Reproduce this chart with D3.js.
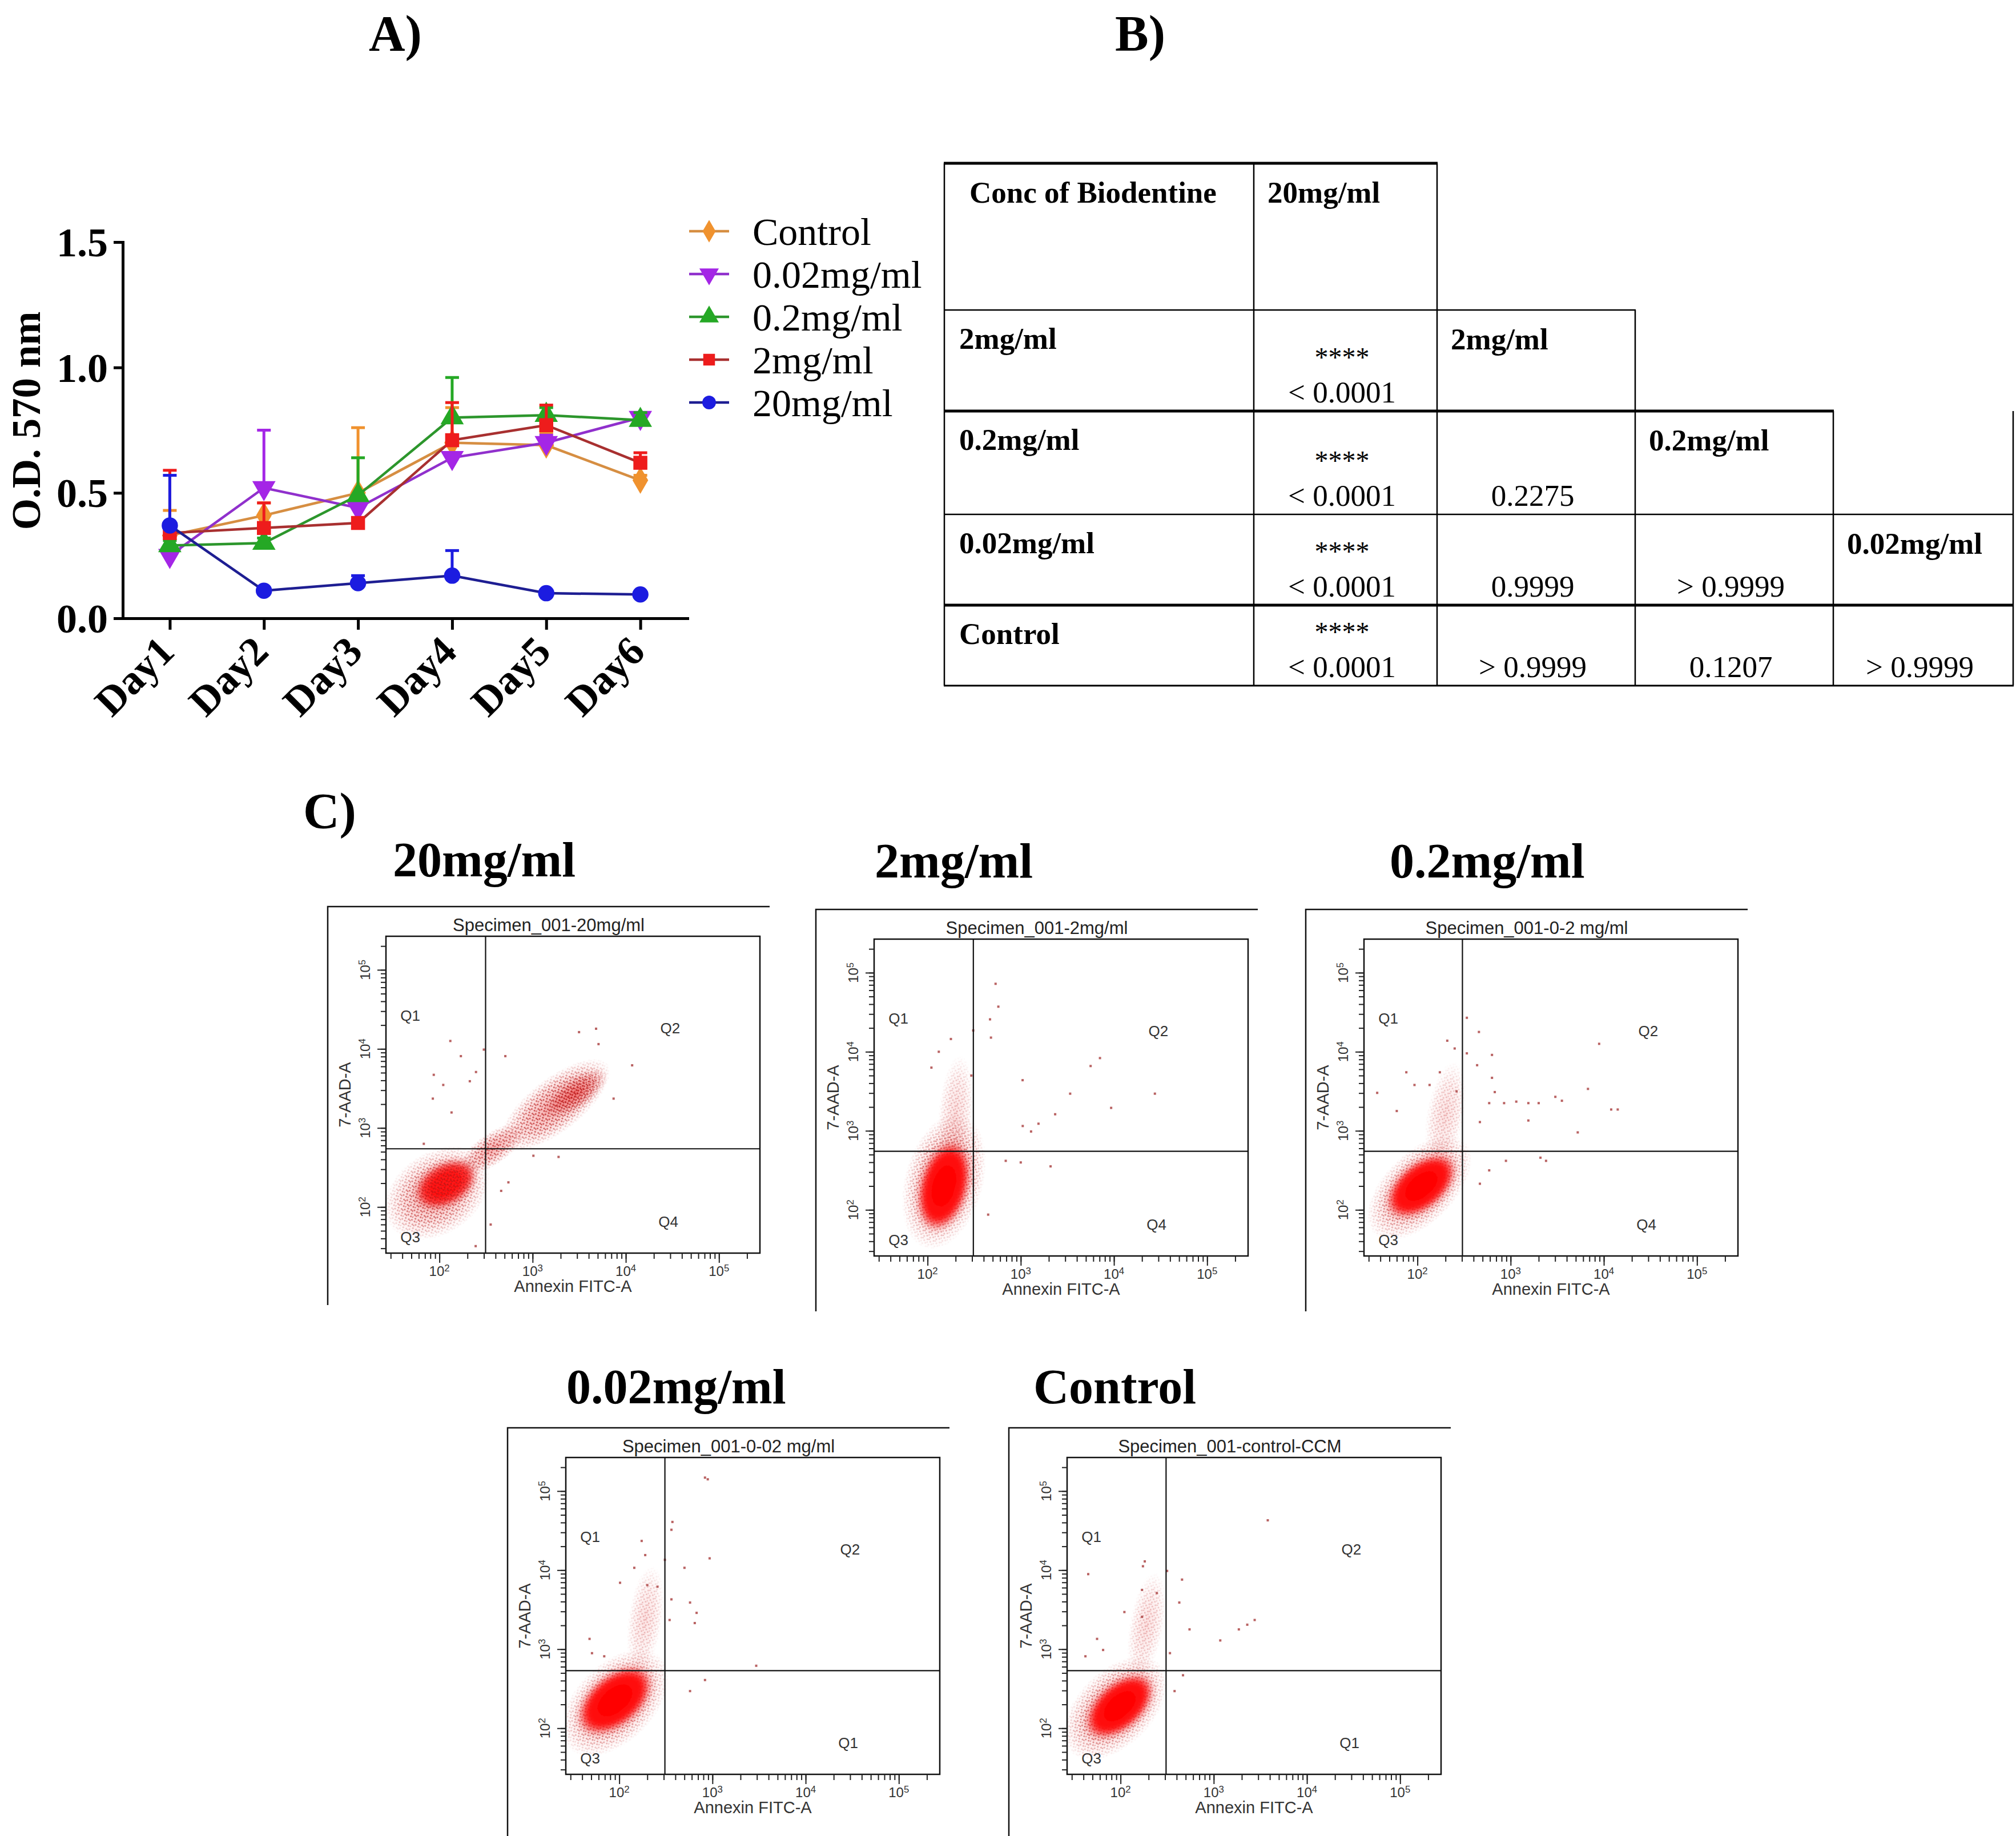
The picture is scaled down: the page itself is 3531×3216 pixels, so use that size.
<!DOCTYPE html>
<html>
<head>
<meta charset="utf-8">
<script src="https://cdn.jsdelivr.net/npm/d3@7/dist/d3.min.js"></script>
<style>
  body { margin: 0; background: #fff; }
  svg { display: block; }
</style>
</head>
<body>
<svg id="fig" width="3531" height="3216"></svg>
<script>
// ---------- A) growth curves ----------
var days = ["Day1", "Day2", "Day3", "Day4", "Day5", "Day6"];
var groups = ["Control", "0.02mg/ml", "0.2mg/ml", "2mg/ml", "20mg/ml"];
var controlMean = [0.33, 0.41, 0.50, 0.70, 0.69, 0.55];
var controlErr  = [0.10, 0.05, 0.26, 0.14, 0.05, 0.02];
var c002Mean = [0.25, 0.52, 0.44, 0.64, 0.70, 0.80];
var c002Err  = [0.02, 0.23, 0.02, 0.02, 0.03, 0.01];
var c02Mean = [0.29, 0.30, 0.49, 0.80, 0.81, 0.79];
var c02Err  = [0.02, 0.02, 0.15, 0.16, 0.03, 0.03];
var c2Mean = [0.34, 0.36, 0.38, 0.71, 0.77, 0.62];
var c2Err  = [0.25, 0.10, 0.02, 0.15, 0.08, 0.04];
var c20Mean = [0.37, 0.11, 0.14, 0.17, 0.10, 0.095];
var c20Err  = [0.20, 0.01, 0.03, 0.10, 0.01, 0.01];
var yTicksA = [0, 0.5, 1.0, 1.5];

// ---------- B) p-value table ----------
var tableCols = ["20mg/ml", "2mg/ml", "0.2mg/ml", "0.02mg/ml"];
var tableRows = ["2mg/ml", "0.2mg/ml", "0.02mg/ml", "Control"];
var tableP = [
  ["< 0.0001"],
  ["< 0.0001", "0.2275"],
  ["< 0.0001", "0.9999", "> 0.9999"],
  ["< 0.0001", "> 0.9999", "0.1207", "> 0.9999"]
];
var tableSig = [["****"], ["****", ""], ["****", "", ""], ["****", "", "", ""]];

// ---------- C) flow cytometry ----------
var flowTitles = ["20mg/ml", "2mg/ml", "0.2mg/ml", "0.02mg/ml", "Control"];
var specimenNames = ["Specimen_001-20mg/ml", "Specimen_001-2mg/ml", "Specimen_001-0-2 mg/ml",
                     "Specimen_001-0-02 mg/ml", "Specimen_001-control-CCM"];
var quadNames = [["Q1", "Q2", "Q3", "Q4"], ["Q1", "Q2", "Q3", "Q4"], ["Q1", "Q2", "Q3", "Q4"],
                 ["Q1", "Q2", "Q3", "Q1"], ["Q1", "Q2", "Q3", "Q1"]];
var gateX = [313, 310, 304, 309, 308];
var gateY = [545, 550, 550, 535, 535];
var flowTicks = [1e2, 1e3, 1e4, 1e5];
// populations: [annexin, 7-AAD, spread x (decades), spread y (decades), tilt deg, density]
var pop20 = [[94, 150, 0.62, 0.52, 35, 0.5], [370, 545, 0.42, 0.2, 35, 0.5],
             [1750, 1950, 0.72, 0.34, 38, 0.55], [2900, 2750, 0.4, 0.2, 35, 0.7],
             [117, 195, 0.36, 0.27, 30, 0.88]];
var pop2 = [[150, 230, 0.75, 0.5, 75, 0.5], [200, 1700, 0.62, 0.22, 85, 0.18],
            [150, 200, 0.5, 0.32, 75, 1]];
var pop02 = [[105, 190, 0.7, 0.45, 45, 0.5], [200, 1600, 0.58, 0.24, 80, 0.18],
             [110, 200, 0.45, 0.3, 40, 1]];
var pop002 = [[90, 210, 0.7, 0.5, 45, 0.5], [190, 2400, 0.58, 0.22, 82, 0.18],
              [90, 225, 0.48, 0.33, 40, 1]];
var popCtrl = [[88, 180, 0.68, 0.48, 45, 0.5], [190, 2000, 0.58, 0.22, 80, 0.18],
               [98, 190, 0.45, 0.3, 42, 1]];
// scattered single events: [annexin, 7-AAD]
var dots20 = [[131, 12600], [170, 8100], [87, 4700], [110, 3500], [212, 3900], [85, 2350], [247, 5100],
              [300, 9800], [510, 8100], [3150, 16300], [4800, 18000], [5100, 11500], [11700, 6200],
              [7400, 2350], [1020, 445], [1900, 430], [460, 160], [355, 60], [550, 205], [68, 630],
              [135, 1570], [245, 32]];
var dots2 = [[537, 72400], [575, 37200], [468, 25700], [309, 18600], [479, 15100], [178, 14500],
             [132, 10000], [110, 6300], [295, 5000], [1047, 4370], [3390, 2950], [5620, 6600],
             [7080, 8320], [9330, 1950], [27500, 2950], [2340, 1620], [1550, 1230], [1050, 1150],
             [1290, 980], [690, 417], [1000, 398], [2090, 355], [447, 87]];
var dots02 = [[339, 26900], [457, 17800], [209, 13800], [251, 11000], [339, 9550], [631, 9120],
              [437, 6760], [76, 5500], [174, 5500], [37, 3020], [631, 4680], [676, 3090], [589, 2240],
              [851, 2240], [1150, 2340], [1550, 2240], [2000, 2240], [1550, 1350], [3020, 2690],
              [3550, 2400], [6760, 3390], [8910, 12600], [12000, 1860], [14100, 1860], [5250, 955],
              [891, 417], [2090, 457], [2400, 417], [589, 316], [468, 214], [60, 1780], [93, 3800],
              [135, 3800], [468, 1290], [263, 3160]];
var dots002 = [[832, 148000], [891, 141000], [372, 40700], [363, 32400], [174, 23400], [190, 15500],
               [309, 13500], [501, 10700], [933, 14100], [145, 10700], [102, 6920], [200, 6460],
               [257, 6170], [363, 4270], [575, 3890], [676, 2880], [646, 2140], [347, 2340],
               [48, 1350], [51, 890], [2950, 617], [832, 407], [575, 295], [69, 813]];
var dotsCtrl = [[3800, 42700], [45, 8900], [182, 12900], [174, 11200], [316, 9770], [457, 7590],
                [427, 3890], [170, 5620], [245, 5130], [110, 2950], [170, 2570], [550, 1780],
                [1175, 1290], [1860, 1780], [2290, 2040], [2750, 2340], [65, 977], [339, 891],
                [468, 468], [380, 295], [42, 813], [56, 1350]];

var serif = "'Liberation Serif', 'Times New Roman', serif";
var sans = "'Liberation Sans', Arial, sans-serif";

var translate = function(x, y) {
  return "translate(" + x + "," + y + ")";
};

var svg = d3.select("#fig");
svg.append("rect").attr("width", 3531).attr("height", 3216).attr("fill", "#fff");
var defs = svg.append("defs");

// panel letters
var letters = [["A)", 646, 88], ["B)", 1953, 88], ["C)", 531, 1450]];
svg.selectAll("text.letter").data(letters).enter().append("text")
  .attr("class", "letter")
  .attr("x", function(d) { return d[1]; })
  .attr("y", function(d) { return d[2]; })
  .attr("font-family", serif).attr("font-weight", "bold").attr("font-size", 88)
  .text(function(d) { return d[0]; });

/* ================= A ================= */
var means = [controlMean, c002Mean, c02Mean, c2Mean, c20Mean];
var errs = [controlErr, c002Err, c02Err, c2Err, c20Err];
var markColors = ["#f0922e", "#a426e6", "#25a825", "#ee1c1c", "#1c1ce0"];
var lineColors = ["#d68e42", "#9030cc", "#2c962c", "#a83030", "#1e1e92"];
var shapes = [d3.symbolDiamond, d3.symbolTriangle, d3.symbolTriangle, d3.symbolSquare, d3.symbolCircle];
var shapeTurn = [0, 180, 0, 0, 0];
var shapeSize = [650, 720, 720, 600, 640];

var xA = d3.scalePoint().domain(days).range([215, 1204]).padding(0.5);
var yA = d3.scaleLinear().domain([0, 1.5]).range([1083, 424]);
var gA = svg.append("g").attr("id", "panelA");

var yAxisA = d3.axisLeft(yA).tickValues(yTicksA).tickFormat(d3.format(".1f"))
  .tickSize(16).tickPadding(10).tickSizeOuter(0);
var yg = gA.append("g").attr("transform", translate(215, 0)).call(yAxisA);
var xAxisA = d3.axisBottom(xA).tickSize(20).tickSizeOuter(0);
var xg = gA.append("g").attr("transform", translate(0, 1083)).call(xAxisA);
[yg, xg].forEach(function(ax) {
  ax.select(".domain").attr("stroke-width", 5).attr("stroke-linecap", "square");
  ax.selectAll(".tick line").attr("stroke-width", 5);
  ax.selectAll("text").attr("font-family", serif).attr("font-weight", "bold")
    .attr("font-size", 72).attr("fill", "#000");
});
yg.selectAll("text").attr("dy", "0.34em");
xg.selectAll("text")
  .attr("y", 0).attr("dy", 0).attr("x", 0)
  .attr("text-anchor", "end")
  .attr("transform", "translate(11,62) rotate(-45)");

gA.append("text")
  .attr("transform", translate(70, 737) + " rotate(-90)")
  .attr("text-anchor", "middle")
  .attr("font-family", serif).attr("font-weight", "bold").attr("font-size", 71)
  .text("O.D. 570 nm");

var lineA = d3.line()
  .x(function(d, i) { return xA(days[i]); })
  .y(function(d) { return yA(d); });

groups.forEach(function(name, k) {
  var s = gA.append("g").attr("class", "series");
  var pts = means[k].map(function(m, i) { return { day: days[i], m: m, e: errs[k][i] }; });
  var eb = s.selectAll("g.err").data(pts).enter().append("g").attr("class", "err")
    .attr("stroke", markColors[k]).attr("stroke-width", 5);
  eb.append("line")
    .attr("x1", function(d) { return xA(d.day); })
    .attr("x2", function(d) { return xA(d.day); })
    .attr("y1", function(d) { return yA(d.m); })
    .attr("y2", function(d) { return yA(d.m + d.e); });
  eb.append("line")
    .attr("x1", function(d) { return xA(d.day) - 12; })
    .attr("x2", function(d) { return xA(d.day) + 12; })
    .attr("y1", function(d) { return yA(d.m + d.e); })
    .attr("y2", function(d) { return yA(d.m + d.e); });
  s.append("path").datum(means[k])
    .attr("d", lineA).attr("fill", "none")
    .attr("stroke", lineColors[k]).attr("stroke-width", 4.5);
  s.selectAll("path.mark").data(pts).enter().append("path").attr("class", "mark")
    .attr("d", d3.symbol().type(shapes[k]).size(shapeSize[k]))
    .attr("transform", function(d) {
      return translate(xA(d.day), yA(d.m)) + " rotate(" + shapeTurn[k] + ")";
    })
    .attr("fill", markColors[k]);
});

// legend
var legend = gA.append("g").attr("id", "legendA");
var leg = legend.selectAll("g").data(groups).enter().append("g")
  .attr("transform", function(d, i) { return translate(1242, 405 + i * 75); });
leg.append("line").attr("x1", -35).attr("x2", 35)
  .attr("stroke", function(d, i) { return lineColors[i]; }).attr("stroke-width", 4.5);
leg.append("path")
  .attr("d", function(d, i) { return d3.symbol().type(shapes[i]).size(shapeSize[i] * 0.7)(); })
  .attr("transform", function(d, i) { return "rotate(" + shapeTurn[i] + ")"; })
  .attr("fill", function(d, i) { return markColors[i]; });
leg.append("text").attr("x", 76).attr("dy", "0.35em")
  .attr("font-family", serif).attr("font-size", 68)
  .text(function(d) { return d; });

/* ================= B ================= */
var colEdges = [1654, 2196, 2517, 2864, 3211, 3526];
var rowEdges = [286, 543, 720, 901, 1060, 1201];
var hWidth = [5, 2.5, 5, 2.5, 5, 3];
var gB = svg.append("g").attr("id", "panelB");
rowEdges.forEach(function(y, r) {
  var right = colEdges[Math.min(r + 2, 5)];
  gB.append("line").attr("x1", colEdges[0] - 1).attr("x2", right + 1)
    .attr("y1", y).attr("y2", y).attr("stroke", "#000").attr("stroke-width", hWidth[r]);
});
colEdges.forEach(function(x, c) {
  var top = rowEdges[Math.min(Math.max(0, c - 2), 2)];
  gB.append("line").attr("x1", x).attr("x2", x)
    .attr("y1", top).attr("y2", rowEdges[5]).attr("stroke", "#000").attr("stroke-width", 2.5);
});
var bold = function(sel) {
  return sel.attr("font-family", serif).attr("font-weight", "bold").attr("font-size", 53);
};
bold(gB.append("text").attr("x", colEdges[0] + 44).attr("y", rowEdges[0] + 69)).text("Conc of Biodentine");
tableCols.forEach(function(name, c) {
  bold(gB.append("text").attr("x", colEdges[c + 1] + 24).attr("y", rowEdges[c] + 69)).text(name);
});
tableRows.forEach(function(name, r) {
  bold(gB.append("text").attr("x", colEdges[0] + 26).attr("y", rowEdges[r + 1] + 68)).text(name);
  tableP[r].forEach(function(p, c) {
    var cx = (colEdges[c + 1] + colEdges[c + 2]) / 2 - 6;
    gB.append("text").attr("x", cx).attr("y", rowEdges[r + 2] - 15)
      .attr("text-anchor", "middle").attr("font-family", serif).attr("font-size", 53).text(p);
    if (tableSig[r][c]) {
      gB.append("text").attr("x", cx).attr("y", rowEdges[r + 2] - 78)
        .attr("text-anchor", "middle").attr("font-family", serif).attr("font-size", 48)
        .text(tableSig[r][c]);
    }
  });
});

/* ================= C ================= */
var FW = 655, FH = 555;
var fx = d3.scaleLog().domain([26.7, 275000]).range([0, FW]);
var fy = d3.scaleLog().domain([26.1, 266000]).range([FH, 0]);
var decX = FW / Math.log10(275000 / 26.7);
var decY = FH / Math.log10(266000 / 26.1);
var flowPops = [pop20, pop2, pop02, pop002, popCtrl];
var flowDots = [dots20, dots2, dots02, dots002, dotsCtrl];
var flowLayout = [
  { x0: 676, y0: 1640, tx: 688, ty: 1535, ob: 2286 },
  { x0: 1531, y0: 1645, tx: 1532, ty: 1537, ob: 2297 },
  { x0: 2389, y0: 1645, tx: 2434, ty: 1537, ob: 2297 },
  { x0: 991, y0: 2553, tx: 992, ty: 2458, ob: 3216 },
  { x0: 1869, y0: 2553, tx: 1810, ty: 2458, ob: 3216 }
];
var quadPos = [[0.065, 0.25], [0.76, 0.29], [0.065, 0.95], [0.755, 0.9]];

// gradients / textures for the dense event clouds
var core = defs.append("radialGradient").attr("id", "coreGrad");
core.append("stop").attr("offset", "0%").attr("stop-color", "#ff0000").attr("stop-opacity", 1);
core.append("stop").attr("offset", "70%").attr("stop-color", "#ff0a0a").attr("stop-opacity", 1);
core.append("stop").attr("offset", "100%").attr("stop-color", "#f03030").attr("stop-opacity", 0);
var halo = defs.append("radialGradient").attr("id", "haloGrad");
halo.append("stop").attr("offset", "0%").attr("stop-color", "#e82828").attr("stop-opacity", 0.8);
halo.append("stop").attr("offset", "55%").attr("stop-color", "#ec5a5a").attr("stop-opacity", 0.45);
halo.append("stop").attr("offset", "100%").attr("stop-color", "#f8b8b8").attr("stop-opacity", 0);
var fade = defs.append("radialGradient").attr("id", "fadeGrad");
fade.append("stop").attr("offset", "0%").attr("stop-color", "#fff");
fade.append("stop").attr("offset", "60%").attr("stop-color", "#bbb");
fade.append("stop").attr("offset", "100%").attr("stop-color", "#000");
defs.append("mask").attr("id", "fadeMask").attr("maskContentUnits", "objectBoundingBox")
  .append("rect").attr("width", 1).attr("height", 1).attr("fill", "url(#fadeGrad)");
var speck = defs.append("pattern").attr("id", "speck")
  .attr("patternUnits", "userSpaceOnUse").attr("width", 13).attr("height", 11);
[[1, 1], [7, 3], [3, 6], [10, 8], [5, 9.5], [11, 0]].forEach(function(p) {
  speck.append("rect").attr("x", p[0]).attr("y", p[1]).attr("width", 2.6).attr("height", 2.6)
    .attr("fill", "#b81818");
});
defs.append("filter").attr("id", "soft").attr("x", "-20%").attr("y", "-20%")
  .attr("width", "140%").attr("height", "140%")
  .append("feGaussianBlur").attr("stdDeviation", 5);

var supLabel = function(sel, v) {
  sel.append("tspan").text("10");
  sel.append("tspan").attr("dy", "-0.5em").attr("font-size", "70%").text(Math.round(Math.log10(v)));
};

flowTitles.forEach(function(title, i) {
  var L = flowLayout[i];
  svg.append("text").attr("x", L.tx).attr("y", L.ty)
    .attr("font-family", serif).attr("font-weight", "bold").attr("font-size", 86)
    .text(title);

  var g = svg.append("g").attr("class", "flow").attr("transform", translate(L.x0, L.y0));

  // outer frame (top and left edges)
  g.append("path")
    .attr("d", "M" + (FW + 17) + "," + (-52) + "H-102V" + (L.ob - L.y0))
    .attr("fill", "none").attr("stroke", "#111").attr("stroke-width", 2.5);

  g.append("text").attr("x", (FW - 85) / 2).attr("y", -9)
    .attr("text-anchor", "middle").attr("font-family", sans).attr("font-size", 31)
    .attr("fill", "#222").text(specimenNames[i]);

  defs.append("clipPath").attr("id", "clip" + i)
    .append("rect").attr("width", FW).attr("height", FH);
  var marks = g.append("g").attr("clip-path", "url(#clip" + i + ")");

  flowPops[i].forEach(function(p) {
    var t = translate(fx(p[0]), fy(p[1])) + " rotate(" + (-p[4]) + ")";
    var rx = p[2] * decX, ry = p[3] * decY;
    if (p[5] >= 0.85) {
      marks.append("ellipse").attr("rx", rx).attr("ry", ry).attr("transform", t)
        .attr("fill", "url(#coreGrad)").attr("fill-opacity", p[5]).attr("filter", "url(#soft)");
      if (p[5] < 1) {
        marks.append("ellipse").attr("rx", rx * 1.1).attr("ry", ry * 1.1).attr("transform", t)
          .attr("fill", "url(#speck)").attr("mask", "url(#fadeMask)").attr("opacity", 0.9);
      }
    } else {
      marks.append("ellipse").attr("rx", rx).attr("ry", ry).attr("transform", t)
        .attr("fill", "url(#haloGrad)").attr("fill-opacity", p[5]);
      marks.append("ellipse").attr("rx", rx).attr("ry", ry).attr("transform", t)
        .attr("fill", "url(#speck)").attr("mask", "url(#fadeMask)")
        .attr("opacity", Math.min(1, p[5] * 1.6));
    }
  });

  marks.selectAll("rect.dot").data(flowDots[i]).enter().append("rect").attr("class", "dot")
    .attr("x", function(d) { return fx(d[0]) - 2; })
    .attr("y", function(d) { return fy(d[1]) - 2; })
    .attr("width", 4).attr("height", 4)
    .attr("fill", "#a83c3c").attr("opacity", 0.8);

  // quadrant gates
  g.append("line").attr("x1", fx(gateX[i])).attr("x2", fx(gateX[i]))
    .attr("y1", 0).attr("y2", FH).attr("stroke", "#111").attr("stroke-width", 2.2);
  g.append("line").attr("x1", 0).attr("x2", FW)
    .attr("y1", fy(gateY[i])).attr("y2", fy(gateY[i])).attr("stroke", "#111").attr("stroke-width", 2.2);

  g.append("rect").attr("width", FW).attr("height", FH)
    .attr("fill", "none").attr("stroke", "#111").attr("stroke-width", 2.5);

  g.selectAll("text.quad").data(quadNames[i]).enter().append("text").attr("class", "quad")
    .attr("x", function(d, k) { return quadPos[k][0] * FW; })
    .attr("y", function(d, k) { return quadPos[k][1] * FH; })
    .attr("dy", "0.35em").attr("text-anchor", "middle")
    .attr("font-family", sans).attr("font-size", 26).attr("fill", "#333")
    .text(function(d) { return d; });

  // axes: minor and decade ticks
  var minorX = fx.ticks().filter(function(v) { return v > 26.7 && v < 275000; });
  var minorY = fy.ticks().filter(function(v) { return v > 26.1 && v < 266000; });
  var axes = [
    g.append("g").attr("transform", translate(0, FH)).call(d3.axisBottom(fx).tickValues(minorX).tickSize(10).tickFormat("")),
    g.append("g").attr("transform", translate(0, FH)).call(d3.axisBottom(fx).tickValues(flowTicks).tickSize(17).tickFormat("")),
    g.append("g").call(d3.axisLeft(fy).tickValues(minorY).tickSize(9).tickFormat("")),
    g.append("g").call(d3.axisLeft(fy).tickValues(flowTicks).tickSize(15).tickFormat(""))
  ];
  axes.forEach(function(ax) {
    ax.select(".domain").remove();
    ax.selectAll(".tick line").attr("stroke", "#222").attr("stroke-width", 2);
  });

  g.selectAll("text.xt").data(flowTicks).enter().append("text").attr("class", "xt")
    .attr("x", function(d) { return fx(d); }).attr("y", FH + 40)
    .attr("text-anchor", "middle").attr("font-family", sans).attr("font-size", 24).attr("fill", "#333")
    .each(function(d) { supLabel(d3.select(this), d); });
  g.selectAll("text.yt").data(flowTicks).enter().append("text").attr("class", "yt")
    .attr("transform", function(d) { return translate(-28, fy(d)) + " rotate(-90)"; })
    .attr("text-anchor", "middle").attr("font-family", sans).attr("font-size", 24).attr("fill", "#333")
    .each(function(d) { supLabel(d3.select(this), d); });

  g.append("text").attr("x", FW / 2).attr("y", FH + 68)
    .attr("text-anchor", "middle").attr("font-family", sans).attr("font-size", 29).attr("fill", "#333")
    .text("Annexin FITC-A");
  g.append("text").attr("transform", translate(-62, FH / 2) + " rotate(-90)")
    .attr("text-anchor", "middle").attr("font-family", sans).attr("font-size", 29).attr("fill", "#333")
    .text("7-AAD-A");
});
</script>
</body>
</html>
